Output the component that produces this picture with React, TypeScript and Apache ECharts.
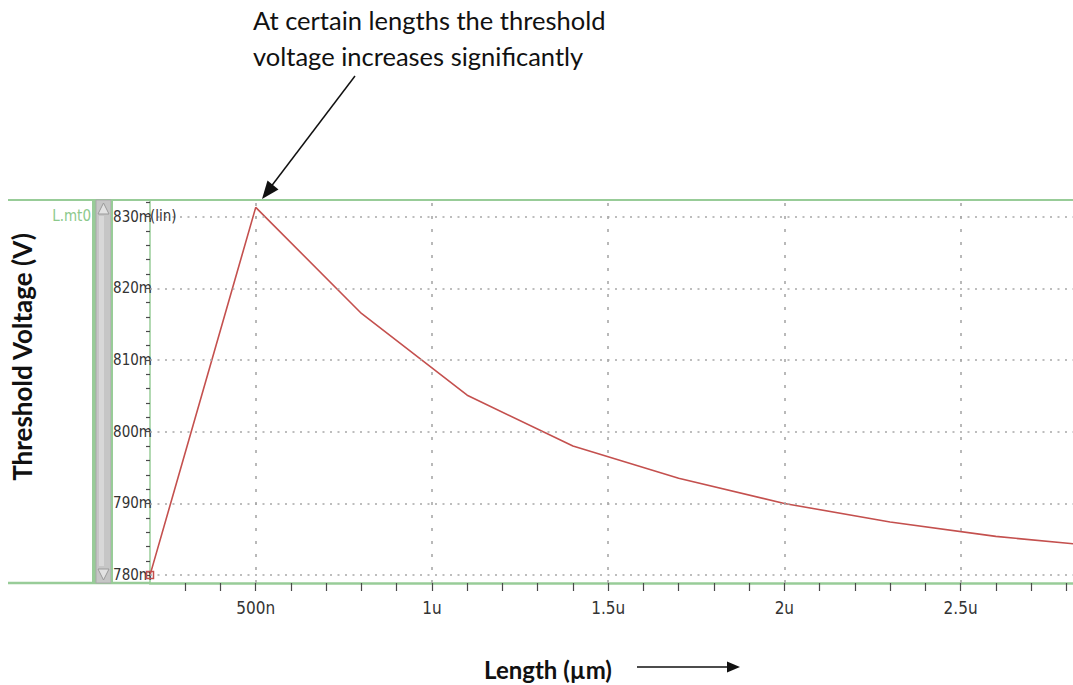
import React, { useEffect, useRef } from "react";
import * as echarts from "echarts";

// Data: channel length (µm) vs threshold voltage (mV)
const lengthsUm = [0.2, 0.5, 0.8, 1.1, 1.4, 1.7, 2.0, 2.3, 2.6, 2.9];
const thresholdMv = [780.0, 831.3, 816.5, 805.1, 798.0, 793.5, 790.0, 787.4, 785.4, 784.0];

// Axis ticks / labels
const xLabelValues = [0.5, 1, 1.5, 2, 2.5];
const xLabelTexts = ["500n", "1u", "1.5u", "2u", "2.5u"];
const xMinorTicks = [0.3, 0.4, 0.5, 0.6, 0.7, 0.8, 0.9, 1.0, 1.1, 1.2, 1.3, 1.4, 1.5, 1.6, 1.7, 1.8, 1.9, 2.0, 2.1, 2.2, 2.3, 2.4, 2.5, 2.6, 2.7, 2.8];
const yLabelValues = [780, 790, 800, 810, 820, 830];
const yLabelTexts = ["780m", "790m", "800m", "810m", "820m", "830m"];
const yMinorTicks = [780, 782, 784, 786, 788, 790, 792, 794, 796, 798, 800, 802, 804, 806, 808, 810, 812, 814, 816, 818, 820, 822, 824, 826, 828, 830, 832];

const X_MIN = 0.2;
const X_MAX = 2.819;
const Y_MIN = 778.9;
const Y_MAX = 832.33;

const GREEN = "#98cc98";
const RED = "#c4504e";
const AXIS_FONT = "'DejaVu Sans Condensed', 'Liberation Sans Narrow', sans-serif";
const TITLE_FONT = "Lato, 'Open Sans', sans-serif";

export default function App() {
  const ref = useRef<HTMLDivElement>(null);
  useEffect(() => {
    if (!ref.current) return;
    const chart = echarts.init(ref.current, null, { renderer: "svg" });
    const seriesData: any[] = lengthsUm.map((x, i) => [x, thresholdMv[i]]);
    seriesData[0] = {
      value: seriesData[0],
      symbol: "rect",
      symbolSize: 7,
      itemStyle: { color: "rgba(255,255,255,0)", borderColor: RED, borderWidth: 1.5 },
    };
    const gridLines: any[] = [
      ...yLabelValues.map((v) => ({ yAxis: v, lineStyle: { type: [2, 5.5] } })),
      ...xLabelValues.map((v) => ({ xAxis: v, lineStyle: { type: [3, 10] } })),
    ];
    chart.setOption({
      animation: false,
      backgroundColor: "#ffffff",
      grid: { left: 150, right: 0, top: 200, bottom: 102, containLabel: false },
      xAxis: {
        type: "value",
        min: X_MIN,
        max: X_MAX,
        axisLine: { show: true, lineStyle: { color: GREEN, width: 2.5 } },
        axisTick: {
          show: true,
          customValues: xMinorTicks,
          length: 8,
          lineStyle: { color: "#4a4a4a", width: 1.2 },
        },
        axisLabel: {
          show: true,
          customValues: xLabelValues,
          formatter: (v: number) => {
            const i = xLabelValues.findIndex((t) => Math.abs(t - v) < 1e-6);
            return i >= 0 ? xLabelTexts[i] : "";
          },
          margin: 16,
          fontFamily: AXIS_FONT,
          fontSize: 17,
          color: "#333",
        },
        splitLine: { show: false },
      },
      yAxis: {
        type: "value",
        min: Y_MIN,
        max: Y_MAX,
        axisLine: { show: true, lineStyle: { color: GREEN, width: 1.5 } },
        axisTick: {
          show: true,
          customValues: yMinorTicks,
          length: 4,
          lineStyle: { color: "#4a4a4a", width: 1.2 },
        },
        axisLabel: {
          show: true,
          customValues: yLabelValues,
          formatter: (v: number) => {
            const i = yLabelValues.findIndex((t) => Math.abs(t - v) < 1e-6);
            return i >= 0 ? yLabelTexts[i] : "";
          },
          margin: -2,
          fontFamily: AXIS_FONT,
          fontSize: 15,
          color: "#333",
        },
        splitLine: { show: false },
      },
      series: [
        {
          type: "line",
          data: seriesData,
          symbol: "none",
          showSymbol: true,
          clip: true,
          lineStyle: { color: RED, width: 1.6 },
          itemStyle: { color: RED },
          markLine: {
            silent: true,
            symbol: ["none", "none"],
            label: { show: false },
            lineStyle: { color: "#a8a8a8", width: 1.6 },
            data: gridLines,
          },
          z: 3,
        },
      ],
      graphic: [
        // frame lines
        { type: "line", shape: { x1: 8, y1: 200, x2: 1073, y2: 200 }, style: { stroke: GREEN, lineWidth: 2 }, z: 10 },
        { type: "line", shape: { x1: 8, y1: 583, x2: 150, y2: 583 }, style: { stroke: GREEN, lineWidth: 2.5 }, z: 10 },
        // scrollbar
        { type: "rect", shape: { x: 92, y: 200, width: 4, height: 383 }, style: { fill: GREEN }, z: 10 },
        { type: "rect", shape: { x: 96, y: 200, width: 15, height: 383 }, style: { fill: "#c6c6c6", stroke: "#a8a8a8", lineWidth: 1 }, z: 10 },
        { type: "rect", shape: { x: 99, y: 216, width: 5, height: 350 }, style: { fill: "#d8d8d8" }, z: 11 },
        { type: "rect", shape: { x: 111, y: 200, width: 2, height: 383 }, style: { fill: GREEN }, z: 10 },
        { type: "polygon", shape: { points: [[103.5, 203], [98, 214], [109, 214]] }, style: { fill: "#e2e2e2", stroke: "#9a9a9a", lineWidth: 1 }, z: 12 },
        { type: "polygon", shape: { points: [[103.5, 580], [98, 569], [109, 569]] }, style: { fill: "#e2e2e2", stroke: "#9a9a9a", lineWidth: 1 }, z: 12 },
        // small labels
        { type: "text", x: 91, y: 216, style: { text: "L.mt0", fill: "#8cc98c", font: `15px ${AXIS_FONT}`, align: "right", verticalAlign: "middle" }, z: 12 },
        { type: "text", x: 150, y: 216, style: { text: "(lin)", fill: "#333", font: `15px ${AXIS_FONT}`, align: "left", verticalAlign: "middle" }, z: 12 },
        // annotation
        { type: "text", x: 253, y: 20, style: { text: "At certain lengths the threshold", fill: "#111", font: `25.5px ${TITLE_FONT}`, align: "left", verticalAlign: "middle" }, z: 12 },
        { type: "text", x: 253, y: 56, style: { text: "voltage increases significantly", fill: "#111", font: `25.5px ${TITLE_FONT}`, align: "left", verticalAlign: "middle" }, z: 12 },
        { type: "line", shape: { x1: 355, y1: 76, x2: 270, y2: 188 }, style: { stroke: "#111", lineWidth: 1.5 }, z: 12 },
        { type: "polygon", shape: { points: [[262, 199], [278.5, 189.5], [267.5, 180.5]] }, style: { fill: "#111" }, z: 12 },
        // axis titles
        { type: "text", x: 22, y: 357, rotation: Math.PI / 2, style: { text: "Threshold Voltage (V)", fill: "#111", font: `bold 26px ${TITLE_FONT}`, align: "center", verticalAlign: "middle" }, z: 12 },
        { type: "text", x: 548, y: 669, style: { text: "Length (µm)", fill: "#111", font: `bold 24px ${TITLE_FONT}`, align: "center", verticalAlign: "middle" }, z: 12 },
        { type: "line", shape: { x1: 637, y1: 667, x2: 728, y2: 667 }, style: { stroke: "#111", lineWidth: 1.5 }, z: 12 },
        { type: "polygon", shape: { points: [[740, 667], [727, 661.5], [727, 672.5]] }, style: { fill: "#111" }, z: 12 },
      ],
    });
    return () => chart.dispose();
  }, []);
  return (
    <div
      ref={ref}
      style={{ position: "fixed", left: 0, top: 0, width: 1073, height: 685, background: "#fff" }}
    />
  );
}
